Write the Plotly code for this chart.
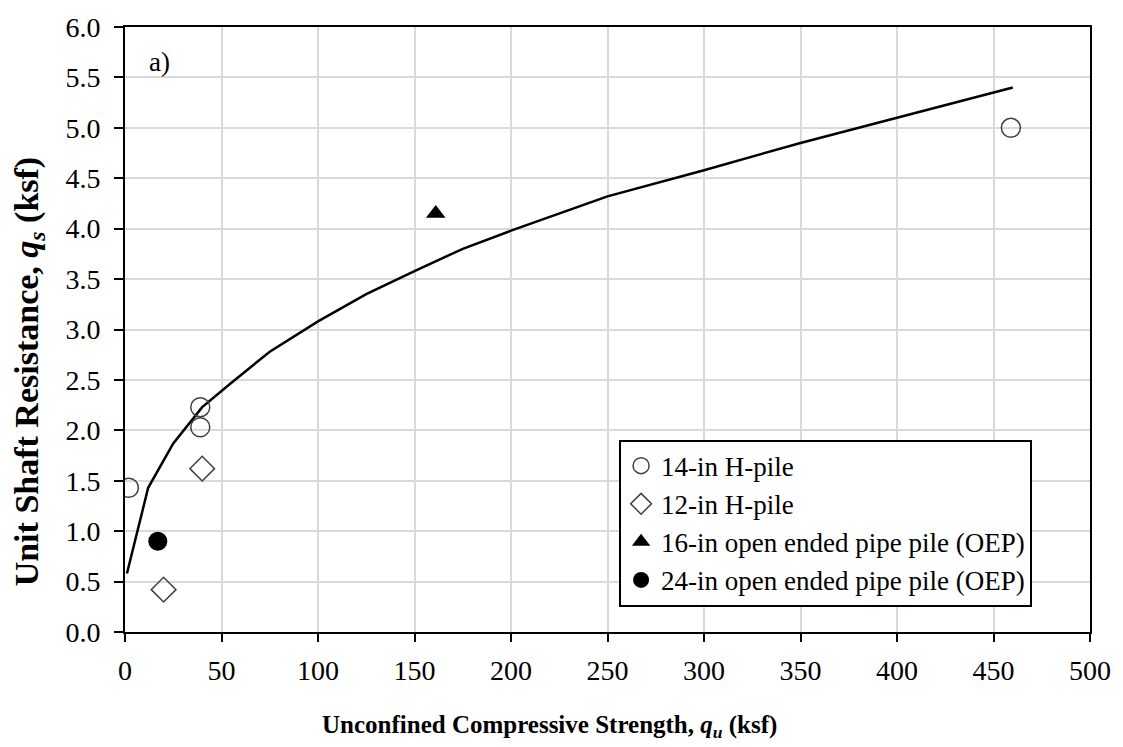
import plotly.graph_objects as go

# design curve
curve_qu = [1, 12, 25, 40, 55, 75, 100, 125, 150, 175, 200, 250, 300, 350, 400, 460]
curve_qs = [0.58, 1.43, 1.87, 2.23, 2.47, 2.78, 3.08, 3.35, 3.58, 3.80, 3.98, 4.32, 4.58, 4.85, 5.10, 5.40]

# measured points
h14_qu = [2, 39, 39, 459]
h14_qs = [1.43, 2.23, 2.03, 5.00]
h12_qu = [20, 40]
h12_qs = [0.42, 1.62]
oep16_qu = [161]
oep16_qs = [4.15]
oep24_qu = [17]
oep24_qs = [0.90]

font_family = "Liberation Serif, Times New Roman, serif"

fig = go.Figure()
fig.add_trace(go.Scatter(x=curve_qu, y=curve_qs, mode='lines',
                         line=dict(color='black', width=2.5), showlegend=False))
fig.add_trace(go.Scatter(x=h14_qu, y=h14_qs, mode='markers', name='14-in H-pile',
                         marker=dict(symbol='circle-open', size=19, color='#404040',
                                     line=dict(width=1.5))))
fig.add_trace(go.Scatter(x=h12_qu, y=h12_qs, mode='markers', name='12-in H-pile',
                         marker=dict(symbol='diamond-open', size=19, color='#404040',
                                     line=dict(width=1.5))))
fig.add_trace(go.Scatter(x=oep16_qu, y=oep16_qs, mode='markers',
                         name='16-in open ended pipe pile (OEP)',
                         marker=dict(symbol='triangle-up', size=17, color='black')))
fig.add_trace(go.Scatter(x=oep24_qu, y=oep24_qs, mode='markers',
                         name='24-in open ended pipe pile (OEP)',
                         marker=dict(symbol='circle', size=19, color='black')))

fig.add_annotation(x=18, y=5.65, text='a)', showarrow=False,
                   font=dict(size=27, color='black', family=font_family))

# axis titles as annotations (the original ones sit off-centre)
fig.add_annotation(text='<b>Unconfined Compressive Strength, <i>q<sub>u</sub></i> (ksf)</b>',
                   xref='paper', yref='paper', x=0.440, y=-0.156,
                   xanchor='center', yanchor='middle', showarrow=False,
                   font=dict(size=25, family=font_family, color='black'))
fig.add_annotation(text='<b>Unit Shaft Resistance, <i>q<sub>s</sub></i> (ksf)</b>',
                   xref='paper', yref='paper', x=-0.100, y=0.43, textangle=-90,
                   xanchor='center', yanchor='middle', showarrow=False,
                   font=dict(size=34, family=font_family, color='black'))

fig.update_layout(
    width=1123, height=747,
    paper_bgcolor='white', plot_bgcolor='white',
    font=dict(family=font_family, size=28, color='black'),
    margin=dict(l=125, r=26, t=23, b=115),
    xaxis=dict(range=[0, 500], dtick=50, tickformat='d',
               showgrid=True, gridcolor='#d9d9d9', gridwidth=2,
               showline=True, linecolor='black', linewidth=2, mirror=True,
               ticks='outside', ticklen=8, tickwidth=2, tickcolor='black',
               ticklabelstandoff=4, zeroline=False),
    yaxis=dict(range=[0, 6], dtick=0.5, tickformat='.1f',
               showgrid=True, gridcolor='#d9d9d9', gridwidth=2,
               showline=True, linecolor='black', linewidth=2, mirror=True,
               ticks='outside', ticklen=9, tickwidth=2, tickcolor='black',
               ticklabelstandoff=8, zeroline=False),
    legend=dict(x=0.512, y=0.318, xanchor='left', yanchor='top',
                bgcolor='white', bordercolor='black', borderwidth=2,
                font=dict(size=27), itemwidth=30, tracegroupgap=0),
)

fig.write_html("out.html", config={'displayModeBar': False},
               post_script="document.body.style.margin='0px';")
